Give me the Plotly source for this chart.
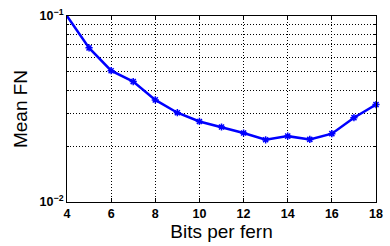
import plotly.graph_objects as go

bits = [4, 5, 6, 7, 8, 9, 10, 11, 12, 13, 14, 15, 16, 17, 18]
mean_fn = [0.100, 0.0674, 0.0508, 0.0444, 0.0354, 0.0302, 0.0271, 0.0253,
           0.0235, 0.0216, 0.0226, 0.0217, 0.0233, 0.0284, 0.0334]
x_ticks = [4, 6, 8, 10, 12, 14, 16, 18]
y_ticks = [0.01, 0.1]
y_ticktext = ["10<sup>−2</sup>", "10<sup>−1</sup>"]
y_minor = [0.02, 0.03, 0.04, 0.05, 0.06, 0.07, 0.08, 0.09]

fig = go.Figure()
fig.add_trace(go.Scatter(
    x=bits, y=mean_fn, mode="lines+markers",
    line=dict(color="#0000ff", width=2.5),
    marker=dict(symbol="asterisk-open", size=6, color="#0000ff",
                line=dict(color="#0000ff", width=1.5)),
    showlegend=False, cliponaxis=False))

dots = "1px,2px"
font_tick = dict(family="Liberation Sans, Arial, sans-serif", size=12.5, color="black")
fig.update_layout(
    width=390, height=246,
    margin=dict(l=67, r=7, t=15, b=44),
    paper_bgcolor="white", plot_bgcolor="white",
    font=dict(family="Liberation Sans, Arial, sans-serif", color="black"),
    xaxis=dict(range=[4, 18], tickvals=x_ticks,
               ticktext=[f"<b>{v}</b>" for v in x_ticks],
               tickfont=font_tick, ticks="inside", ticklen=4, tickcolor="black",
               showline=True, linecolor="black", linewidth=1, mirror="ticks",
               showgrid=True, gridcolor="black", griddash=dots, gridwidth=1,
               zeroline=False,
               title=dict(text="Bits per fern", font=dict(size=19), standoff=2)),
    yaxis=dict(type="log", range=[-2, -1], tickvals=y_ticks,
               ticktext=[f"<b>{t}</b>" for t in y_ticktext],
               tickfont=font_tick, ticks="inside", ticklen=4, tickcolor="black",
               showline=True, linecolor="black", linewidth=1, mirror="ticks",
               showgrid=True, gridcolor="black", griddash=dots, gridwidth=1,
               zeroline=False,
               minor=dict(tickvals=y_minor, showgrid=True, gridcolor="black",
                          griddash=dots, gridwidth=1, ticks="inside",
                          ticklen=2, tickcolor="black"),
               title=dict(text="Mean FN", font=dict(size=19), standoff=6)),
)
fig.write_html("out.html", config={"displayModeBar": False},
               post_script="document.body.style.margin='0';")
